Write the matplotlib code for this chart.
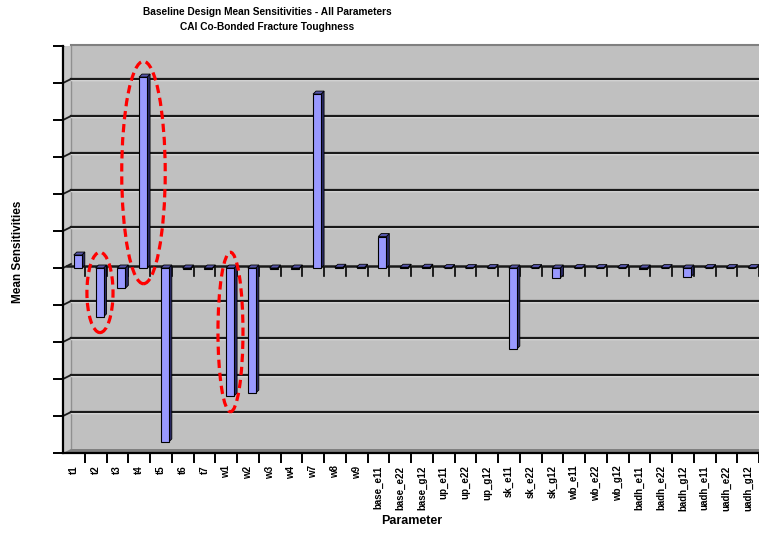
import matplotlib
matplotlib.use("Agg")
import matplotlib.pyplot as plt
import matplotlib.transforms as mtransforms
from matplotlib.patches import Polygon, Ellipse
import numpy as np

# ---------------- data ----------------
parameters = ["t1", "t2", "t3", "t4", "t5", "t6", "t7",
              "w1", "w2", "w3", "w4", "w7", "w8", "w9",
              "base_e11", "base_e22", "base_g12",
              "up_e11", "up_e22", "up_g12",
              "sk_e11", "sk_e22", "sk_g12",
              "wb_e11", "wb_e22", "wb_g12",
              "badh_e11", "badh_e22", "badh_g12",
              "uadh_e11", "uadh_e22", "uadh_g12"]
mean_sens = [0.35, -1.32, -0.55, 5.16, -4.70, -0.03, -0.02,
             -3.46, -3.38, -0.02, -0.02, 4.70, 0.02, 0.02,
             0.85, 0.02, 0.02,
             0.01, 0.01, 0.01,
             -2.19, 0.01, -0.27,
             0.01, 0.01, 0.01,
             -0.04, 0.01, -0.24,
             0.01, 0.01, 0.01]
highlighted = ["t2", "t4", "w1"]
highlight_widths = [1.2, 2.0, 1.15]

title_lines = ["Baseline Design Mean Sensitivities - All Parameters",
               "CAI Co-Bonded Fracture Toughness"]
y_title = "Mean Sensitivities"
x_title = "Parameter"

# ---------------- style ----------------
FONT = ["Liberation Sans Narrow", "DejaVu Sans Condensed", "Liberation Sans", "DejaVu Sans"]
plt.rcParams["font.family"] = FONT

W, H, DPI = 759, 533, 100
fig = plt.figure(figsize=(W / DPI, H / DPI), dpi=DPI)
fig.patch.set_facecolor("white")

ax_left, ax_right, ax_top, ax_bot = 63, 759, 46, 453
ax = fig.add_axes([ax_left / W, (H - ax_bot) / H, (ax_right - ax_left) / W, (ax_bot - ax_top) / H])
n = len(parameters)
ymin, ymax = -5, 6
ax.set_xlim(0, n)
ax.set_ylim(ymin, ymax)
ax.set_facecolor("#C0C0C0")

# pixel sizes of one data unit
ux = (ax_right - ax_left) / n
uy = (ax_bot - ax_top) / (ymax - ymin)

def px(dx, dy):
    return dx / ux, dy / uy

# 3D wall offsets (pixels)
wdx, wdy = 8, 4
ox, oy = px(wdx, wdy)

# left wall
left_wall = Polygon([(0, ymin), (ox, ymin + oy), (ox, ymax), (0, ymax)],
                    closed=True, facecolor="#C8C8C8", edgecolor="none", zorder=0.5)
ax.add_patch(left_wall)
ax.plot([ox, ox], [ymin + oy, ymax], color="#909090", lw=1.0, zorder=0.6)

# back wall gridlines
hl = mtransforms.offset_copy(ax.transData, fig=fig, x=0, y=-1.2, units="dots")
for k in range(ymin + 1, ymax + 1):
    if k == 0:
        continue
    ax.plot([ox, n], [k + oy, k + oy], color="#E8E8E8", lw=1.0, zorder=0.7, transform=hl)
    ax.plot([ox, n], [k + oy, k + oy], color="#1A1A1A", lw=1.6, zorder=0.8)
    ax.plot([0, ox], [k, k + oy], color="#1A1A1A", lw=1.3, zorder=0.8)
# top edge of back wall
ax.plot([ox, n], [ymax + oy * 0.3, ymax + oy * 0.3], color="#808080", lw=1.5, zorder=0.8, clip_on=False)

# floor at bottom
floor = Polygon([(0, ymin), (n, ymin), (n, ymin + oy), (ox, ymin + oy)],
                closed=True, facecolor="#808080", edgecolor="none", zorder=0.9)
ax.add_patch(floor)

# zero plane
ax.plot([0, ox], [0, oy], color="#1A1A1A", lw=1.3, zorder=0.8)
ax.plot([ox * 0.5, n], [oy * 0.6, oy * 0.6], color="#1A1A1A", lw=1.8, zorder=1.0)

# category tick marks on zero line
bounds = np.arange(1, n + 1)
tlen = 8 / uy
for b in bounds:
    ax.plot([b, b], [0, -tlen], color="black", lw=1.2, zorder=1.1)

# bars (front + side + top faces)
bar_w = 0.37
bar_shift = 0.18
ddx, ddy = px(3, 3)
xc = np.arange(n) + 0.5 + bar_shift
for x, v in zip(xc, mean_sens):
    x0, x1 = x - bar_w / 2, x + bar_w / 2
    top = max(v, 0)
    side = Polygon([(x1, 0), (x1 + ddx, ddy), (x1 + ddx, v + ddy), (x1, v)],
                   closed=True, facecolor="#2A2A66", edgecolor="black", lw=0.6, zorder=2)
    topf = Polygon([(x0, top), (x0 + ddx, top + ddy), (x1 + ddx, top + ddy), (x1, top)],
                   closed=True, facecolor="#5555AA", edgecolor="black", lw=0.6, zorder=2)
    ax.add_patch(side)
    ax.add_patch(topf)
ax.bar(xc, mean_sens, width=bar_w, color="#9999FF", edgecolor="black", linewidth=0.8, zorder=3)

# highlight ellipses
for name, wdt in zip(highlighted, highlight_widths):
    i = parameters.index(name)
    v = mean_sens[i]
    e = Ellipse((i + 0.5 + 0.2, v / 2), width=wdt, height=abs(v) + 0.85,
                fill=False, edgecolor="#FF0000", lw=2.3, linestyle=(0, (2.6, 1.5)), zorder=5)
    ax.add_patch(e)

# axes spines / ticks
for s in ["top", "right"]:
    ax.spines[s].set_visible(False)
ax.spines["left"].set_color("black")
ax.spines["left"].set_linewidth(1.6)
ax.spines["bottom"].set_color("black")
ax.spines["bottom"].set_linewidth(1.6)
ax.set_yticks(np.arange(ymin, ymax + 1))
ax.set_yticklabels([])
ax.tick_params(axis="y", direction="out", length=7, width=1.4, color="black")

ax.set_xticks(bounds, minor=False)
ax.set_xticklabels([])
ax.tick_params(axis="x", which="major", direction="out", length=7, width=1.4, color="black")
ax.set_xticks(np.arange(n) + 0.5, minor=True)
ax.set_xticklabels(parameters, minor=True, rotation=90, fontsize=7, fontweight="bold",
                   va="top", ha="center")
ax.tick_params(axis="x", which="minor", length=0, pad=9)

# titles
fig.text(267 / W, 1 - 12 / H, title_lines[0], ha="center", va="center",
         fontsize=7.3, fontweight="bold")
fig.text(267 / W, 1 - 27 / H, title_lines[1], ha="center", va="center",
         fontsize=7.3, fontweight="bold")
fig.text(18 / W, 1 - 252 / H, y_title, rotation=90, ha="center", va="center",
         fontsize=8.5, fontweight="bold")
fig.text(412 / W, 1 - 521 / H, x_title, ha="center", va="center",
         fontsize=9, fontweight="bold")

fig.savefig("out.png", dpi=DPI)
